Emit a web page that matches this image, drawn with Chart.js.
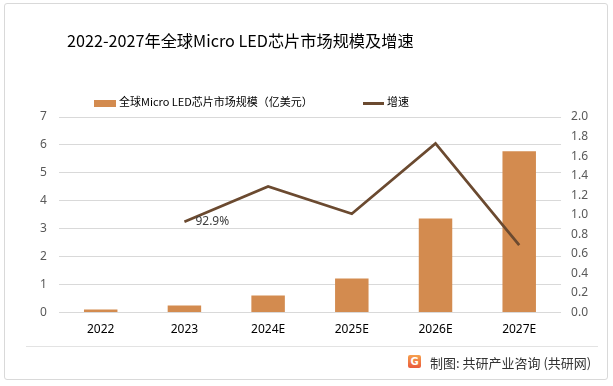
<!DOCTYPE html>
<html>
<head>
<meta charset="utf-8">
<script src="https://cdn.jsdelivr.net/npm/chart.js@4"></script>
<style>
  html, body { margin: 0; padding: 0; background: #fff; }
  body { width: 613px; height: 386px; position: relative; overflow: hidden; font-family: "Noto Sans CJK SC", "Noto Sans", sans-serif; }
  #frame { position: absolute; left: 4px; top: 3px; width: 604px; height: 377px; border: 1px solid #d9d9d9; border-radius: 3px; box-sizing: border-box; }
  #wrap { position: absolute; left: 0; top: 0; width: 613px; height: 386px; }
  #title { position: absolute; left: 67px; top: 28px; font-size: 16.2px; color: #000; white-space: nowrap; }
  .lg { position: absolute; top: 92px; font-size: 11px; color: #000; white-space: nowrap; line-height: 18px; }
  .lg i { display: inline-block; vertical-align: middle; margin-right: 3px; }
  #sep { position: absolute; left: 26px; top: 346px; width: 572px; height: 1px; background: #e3e3e3; }
  #logo { position: absolute; left: 408px; top: 355px; width: 13px; height: 13px; border-radius: 2px; background: linear-gradient(#f6a04d, #ea5a3b); color: #fff; font: bold 10px "DejaVu Sans", sans-serif; text-align: center; line-height: 13px; }
  #src { position: absolute; left: 430px; top: 353px; font-size: 13px; color: #333; white-space: nowrap; }
</style>
</head>
<body>
<div id="frame"></div>
<div id="wrap"><canvas id="grafico" width="613" height="386"></canvas></div>
<div id="title">2022-2027年全球Micro LED芯片市场规模及增速</div>
<div class="lg" id="lg1" style="left:94px"><i style="width:22px;height:7px;background:#d38b4f"></i>全球Micro LED芯片市场规模（亿美元）</div>
<div class="lg" id="lg2" style="left:363px"><i style="width:21px;height:3px;background:#6b4a30"></i>增速</div>
<div id="sep"></div>
<div id="logo">G</div>
<div id="src">制图: 共研产业咨询 (共研网)</div>
<script>
const anos = ['2022', '2023', '2024E', '2025E', '2026E', '2027E'];
const mercado = [0.11, 0.25, 0.61, 1.22, 3.37, 5.77]; // 亿美元
const crescimento = [null, 0.929, 1.29, 1.01, 1.73, 0.69]; // 增速

// rótulo só no primeiro ponto da linha (92.9%)
const rotuloPonto = {
  id: 'rotuloPonto',
  afterDatasetsDraw(chart) {
    const meta = chart.getDatasetMeta(1);
    const pt = meta.data[1];
    const c = chart.ctx;
    c.save();
    c.font = '12px "Noto Sans", sans-serif';
    c.fillStyle = '#404040';
    c.textBaseline = 'middle';
    c.textAlign = 'left';
    c.fillText((crescimento[1] * 100).toFixed(1) + '%', pt.x + 11, pt.y);
    c.restore();
  }
};

const ctx = document.getElementById('grafico').getContext('2d');
const grafico = new Chart(ctx, {
  type: 'bar',
  data: {
    labels: anos,
    datasets: [{
      label: '全球Micro LED芯片市场规模（亿美元）',
      data: mercado,
      backgroundColor: '#d38b4f',
      yAxisID: 'y',
      categoryPercentage: 1,
      barPercentage: 0.4,
      order: 1
    }, {
      type: 'line',
      label: '增速',
      data: crescimento,
      borderColor: '#6b4a30',
      borderWidth: 2.75,
      pointRadius: 0,
      tension: 0,
      yAxisID: 'y1',
      order: 0
    }]
  },
  options: {
    responsive: false,
    animation: false,
    layout: { padding: { top: 117, left: 28, right: 15, bottom: 39 } },
    plugins: { legend: { display: false }, tooltip: { enabled: false } },
    scales: {
      x: {
        grid: { display: false, drawTicks: false, tickLength: 0 },
        border: { display: false },
        ticks: { color: '#000', padding: 10, font: { size: 12, family: '"Noto Sans", sans-serif' } }
      },
      y: {
        position: 'left',
        min: 0, max: 7,
        grid: { color: '#d9d9d9', drawTicks: false },
        border: { display: false },
        ticks: { stepSize: 1, color: '#595959', padding: 12, font: { size: 12, family: '"Noto Sans", sans-serif' } }
      },
      y1: {
        position: 'right',
        min: 0, max: 2,
        grid: { drawOnChartArea: false, drawTicks: false },
        border: { display: false },
        ticks: {
          stepSize: 0.2, color: '#595959', padding: 10,
          font: { size: 12, family: '"Noto Sans", sans-serif' },
          callback: v => v.toFixed(1)
        }
      }
    }
  },
  plugins: [rotuloPonto]
});
</script>
</body>
</html>
